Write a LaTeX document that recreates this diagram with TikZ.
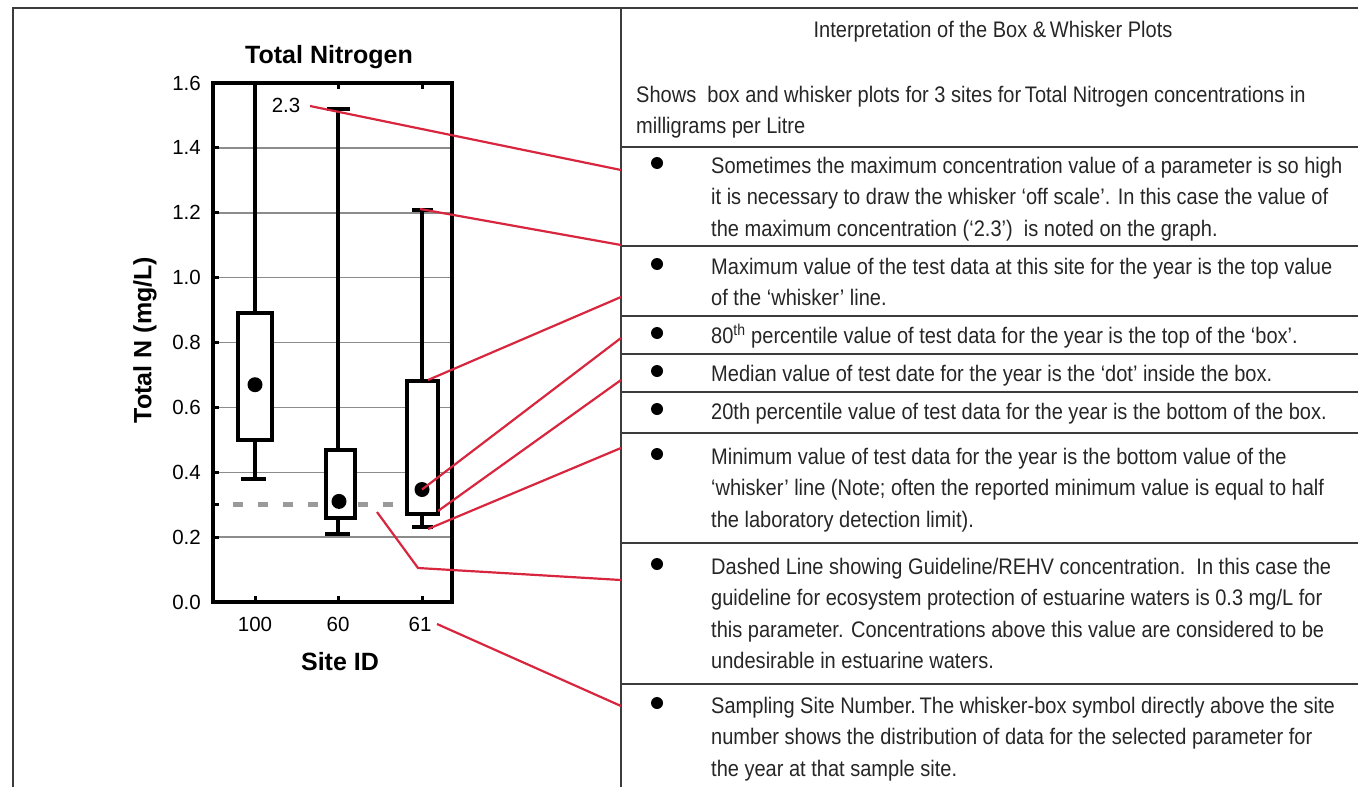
\documentclass[tikz,border=0pt]{standalone}
\usepackage{fontspec}
\setmainfont{Liberation Sans}
\newfontfamily\tabfont[FakeStretch=0.89]{Liberation Sans}
\newfontfamily\chartfont{Liberation Sans}
\definecolor{redline}{HTML}{D7263D}
\definecolor{gridgray}{HTML}{8C8C8C}
\definecolor{dashgray}{HTML}{9A9A9A}
\definecolor{rulegray}{HTML}{3C3C3C}
\definecolor{txt}{HTML}{262626}
\newcommand{\tabpara}[1]{\parbox[t]{720pt}{\tabfont\fontsize{22.5}{31.5}\selectfont\raggedright #1}}
\begin{document}
\begin{tikzpicture}[x=1pt,y=-1pt,
  rule/.style={draw=rulegray,line width=2pt},
  tabtext/.style={anchor=base west,inner sep=0pt,text=txt},
  bulletdot/.style={circle,fill=black,minimum size=12pt,inner sep=0pt},
  axisline/.style={line width=4pt},
  gridline/.style={draw=gridgray,line width=1.5pt},
  bwline/.style={line width=4pt},
  boxrect/.style={draw=black,fill=white,line width=4pt},
  median/.style={circle,fill=black,minimum size=15pt,inner sep=0pt},
  ticklab/.style={font=\chartfont\fontsize{20.5}{20.5}\selectfont,inner sep=0pt},
  boldlab/.style={font=\chartfont\bfseries\fontsize{25}{25}\selectfont,inner sep=0pt},
  callout/.style={draw=redline,line width=2.2pt}]
\useasboundingbox (0,0) rectangle (1358,787);

% ---------- chart ----------
\foreach \yy in {537.1,472.25,407.4,342.5,277.6,212.75,147.9}
  \draw[gridline] (215,\yy) -- (450,\yy);
\draw[draw=dashgray,line width=4.5pt,dash pattern=on 10pt off 15pt] (233,504.7) -- (440,504.7);

% whiskers
\draw[bwline] (255,83) -- (255,313.3) (255,439.8) -- (255,478.7) (241,478.7) -- (266,478.7);
\draw[bwline] (338,109) -- (338,449.5) (327,109) -- (350,109) (338,517.7) -- (338,533.9) (325,533.9) -- (350,533.9);
\draw[bwline] (422,209.5) -- (422,381.4) (412,209.5) -- (433,209.5) (422,514.4) -- (422,527.4) (412,527.4) -- (433,527.4);
% boxes
\draw[boxrect] (238,313.3) rectangle (272,439.8);
\draw[boxrect] (326,449.5) rectangle (355,517.7);
\draw[boxrect] (407,381.4) rectangle (438,514.4);
% medians
\node[median] (m100) at (255,384.7) {};
\node[median] (m60) at (339,501.4) {};
\node[median] (m61) at (422,489.5) {};

% axes frame and ticks
\draw[axisline] (213,83) rectangle (452,602);
\foreach \yy in {537.1,504.7,472.25,407.4,342.5,277.6,212.75,147.9}
  \draw[line width=3pt] (213,\yy) -- (219,\yy);
\foreach \xx in {255,338,422}
  \draw[line width=3pt] (\xx,602) -- (\xx,596);
\foreach \xx in {338,422}
  \draw[line width=3pt] (\xx,83) -- (\xx,89);

% tick labels
\foreach \yy/\lab [count=\i] in {602/0.0,537.1/0.2,472.25/0.4,407.4/0.6,342.5/0.8,277.6/1.0,212.75/1.2,147.9/1.4,83/1.6}
  \node[ticklab,anchor=east] (ylab\i) at (201,\yy) {\lab};
\node[ticklab] (x100) at (255,624) {100};
\node[ticklab] (x60) at (338,624) {60};
\node[ticklab] (x61) at (420,624) {61};
\node[ticklab] (off) at (286,105) {2.3};
\node[boldlab,anchor=base] (title) at (329,63) {Total Nitrogen};
\node[boldlab] (xtitle) at (340,662) {Site ID};
\node[boldlab,rotate=90] (ytitle) at (145,340) {Total N (mg/L)};

% ---------- table ----------
\draw[rule,line width=1.6pt] (13,787) -- (13,8) -- (1358,8);
\draw[rule] (621,8) -- (621,787);
\foreach \yy in {147,246,316,354,392,433,543,684}
  \draw[rule] (621,\yy) -- (1358,\yy);

\node[anchor=base,inner sep=0pt,text=txt] (head) at (993,37)
  {\tabfont\fontsize{22.5}{31.5}\selectfont Interpretation of the Box \&\,Whisker Plots};
\node[tabtext] (intro) at (636,102) {\tabpara{Shows\ \ box and whisker plots for 3 sites for\,Total Nitrogen concentrations in\\milligrams per Litre}};

\node[tabtext] (r1) at (711,173) {\tabpara{Sometimes the maximum concentration value of a parameter is so high\\it is necessary to draw the whisker ‘off scale’. In this case the value of\\the maximum concentration (‘2.3’)\ \ is noted on the graph.}};
\node[tabtext] (r2) at (711,274) {\tabpara{Maximum value of the test data at this site for the year is the top value\\of the ‘whisker’ line.}};
\node[tabtext] (r3) at (711,343) {\tabpara{80\textsuperscript{th} percentile value of test data for the year is the top of the ‘box’.}};
\node[tabtext] (r4) at (711,381) {\tabpara{Median value of test date for the year is the ‘dot’ inside the box.}};
\node[tabtext] (r5) at (711,419) {\tabpara{20th percentile value of test data for the year is the bottom of the box.}};
\node[tabtext] (r6) at (711,464) {\tabpara{Minimum value of test data for the year is the bottom value of the\\‘whisker’ line (Note; often the reported minimum value is equal to half\\the laboratory detection limit).}};
\node[tabtext] (r7) at (711,574) {\tabpara{Dashed Line showing Guideline/REHV concentration.\ \ In this case the\\guideline for ecosystem protection of estuarine waters is 0.3 mg/L for\\this parameter. Concentrations above this value are considered to be\\undesirable in estuarine waters.}};
\node[tabtext] (r8) at (711,713) {\tabpara{Sampling Site Number.\,The whisker-box symbol directly above the site\\number shows the distribution of data for the selected parameter for\\the year at that sample site.}};

\foreach \yy [count=\i] in {163,264,333,371,409,454,564,703}
  \node[bulletdot] (b\i) at (657,\yy) {};

% ---------- callouts ----------
\coordinate (s1) at (310,106);   \coordinate (e1) at (621,170);
\coordinate (s2) at (420,209);   \coordinate (e2) at (621,245);
\coordinate (s3) at (428,380);   \coordinate (e3) at (621,297);
\coordinate (s5) at (438,511);   \coordinate (e5) at (621,380);
\coordinate (s6) at (428,529);   \coordinate (e6) at (621,448);
\coordinate (s7) at (377,512);   \coordinate (k7) at (418,568); \coordinate (e7) at (621,580);
\coordinate (s8) at (437,624);   \coordinate (e8) at (621,706);
\coordinate (e4) at (621,338);
\draw[callout] (s1) -- (e1);
\draw[callout] (s2) -- (e2);
\draw[callout] (s3) -- (e3);
\draw[callout] (m61.center) -- (e4);
\draw[callout] (s5) -- (e5);
\draw[callout] (s6) -- (e6);
\draw[callout] (s7) -- (k7) -- (e7);
\draw[callout] (s8) -- (e8);
\end{tikzpicture}
\end{document}
